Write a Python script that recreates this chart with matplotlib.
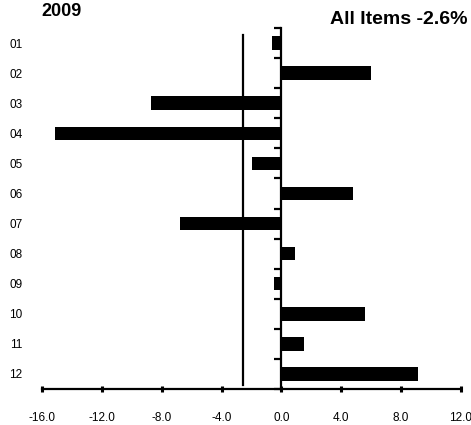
import matplotlib
matplotlib.use("Agg")
import matplotlib.pyplot as plt
import numpy as np

plt.rcParams['font.family'] = ['Liberation Sans', 'DejaVu Sans']

categories = ["01", "02", "03", "04", "05", "06", "07", "08", "09", "10", "11", "12"]
values = [-0.6, 6.0, -8.7, -15.1, -2.0, 4.8, -6.8, 0.9, -0.5, 5.6, 1.5, 9.1]
all_items = -2.6
year_label = "2009"
xticks = [-16, -12, -8, -4, 0, 4, 8, 12]

fig = plt.figure(figsize=(4.71, 4.25), dpi=100)
ax = fig.add_axes([42/471, 36/425, 419/471, 361/425])

y = np.arange(len(categories))
ax.barh(y, values, height=0.45, color='black', zorder=3)
ax.set_ylim(len(categories) - 0.5, -0.5)
ax.set_xlim(xticks[0], xticks[-1])

# reference line (All Items)
ax.axvline(all_items, ymin=0.011, ymax=0.98, color='black', lw=1.6, zorder=2)

# y labels
ax.set_yticks(y)
ax.set_yticklabels(categories)
ax.tick_params(axis='y', length=0, pad=14, labelsize=8.5)

# x axis
ax.set_xticks(xticks)
ax.set_xticklabels([f"{v:.1f}" for v in xticks])
ax.tick_params(axis='x', direction='inout', length=5, width=2.2, pad=14, labelsize=8.5)

for s in ['left', 'right', 'top']:
    ax.spines[s].set_visible(False)
ax.spines['bottom'].set_linewidth(1.6)

# zero axis with category boundary ticks
ax2 = ax.twinx()
ax2.set_ylim(ax.get_ylim())
for s in ['left', 'top', 'bottom']:
    ax2.spines[s].set_visible(False)
ax2.spines['right'].set_position(('data', 0))
ax2.spines['right'].set_linewidth(1.6)
ax2.set_yticks(np.arange(-0.5, len(categories), 1.0))
ax2.set_yticklabels([])
ax2.tick_params(axis='y', direction='in', length=5, width=1.6)

fig.text(61/471, 1 - 11/425, year_label, ha='center', va='center', fontsize=13, fontweight='bold')
fig.text(467/471, 1 - 19.5/425, f"All Items {all_items:.1f}%", ha='right', va='center',
         fontsize=14, fontweight='bold')

fig.savefig("out.png", dpi=100)
